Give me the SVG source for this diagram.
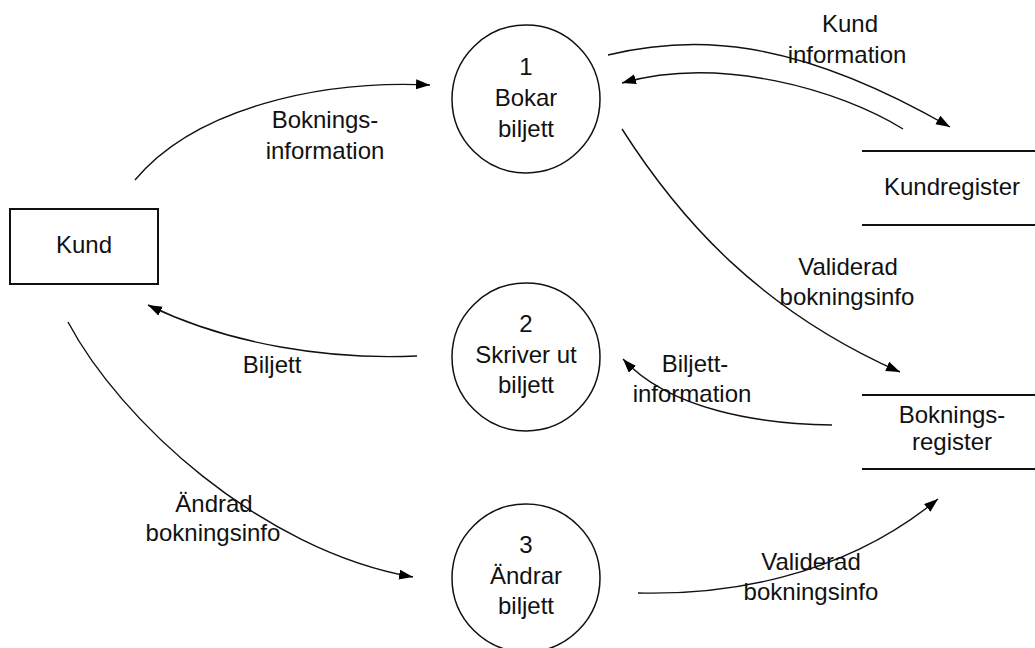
<svg xmlns="http://www.w3.org/2000/svg" width="1035" height="648" viewBox="0 0 1035 648">
  <style>
    text { font-family: "Liberation Sans", Arial, sans-serif; font-size: 24px; fill: #111; text-anchor: middle; }
    .proc { fill: none; stroke: #111; stroke-width: 1.5; }
    .ent { fill: none; stroke: #111; stroke-width: 2; }
    .store { stroke: #111; stroke-width: 2; }
    .flow { fill: none; stroke: #111; stroke-width: 1.4; marker-end: url(#arrow); }
  </style>
  <defs>
    <marker id="arrow" markerUnits="userSpaceOnUse" markerWidth="15" markerHeight="11" refX="14" refY="5" orient="auto">
      <path d="M0,0 L14,5 L0,10 z" fill="#000"/>
    </marker>
  </defs>
  <rect width="1035" height="648" fill="#fff"/>

  <!-- external entity -->
  <g id="kund">
    <rect class="ent" x="10" y="209" width="148" height="75"/>
    <text x="84" y="253">Kund</text>
  </g>

  <!-- processes -->
  <g id="p1">
    <circle class="proc" cx="526" cy="99" r="74"/>
    <text x="526" y="75">1</text>
    <text x="526" y="106">Bokar</text>
    <text x="526" y="137">biljett</text>
  </g>
  <g id="p2">
    <circle class="proc" cx="526" cy="357" r="74"/>
    <text x="526" y="332">2</text>
    <text x="526" y="363">Skriver ut</text>
    <text x="526" y="393">biljett</text>
  </g>
  <g id="p3">
    <circle class="proc" cx="526" cy="578" r="74"/>
    <text x="526" y="553">3</text>
    <text x="526" y="584">Ändrar</text>
    <text x="526" y="614">biljett</text>
  </g>

  <!-- data stores -->
  <g id="kundregister">
    <line class="store" x1="862" y1="151" x2="1035" y2="151"/>
    <line class="store" x1="862" y1="225" x2="1035" y2="225"/>
    <text x="952" y="195">Kundregister</text>
  </g>
  <g id="bokningsregister">
    <line class="store" x1="862" y1="395" x2="1035" y2="395"/>
    <line class="store" x1="862" y1="469" x2="1035" y2="469"/>
    <text x="952" y="423">Boknings-</text>
    <text x="952" y="450">register</text>
  </g>

  <!-- data flows -->
  <g id="connectors">
    <path class="flow" d="M135,180 C195,108 320,80 430,85"/>
    <path class="flow" d="M608,55 C690,35 790,35 950,127"/>
    <path class="flow" d="M903,129 C840,90 720,55 622,83"/>
    <path class="flow" d="M622,129 C680,220 760,310 900,372"/>
    <path class="flow" d="M832,425 C760,424 670,410 623,359"/>
    <path class="flow" d="M417,356 C330,360 230,345 148,305"/>
    <path class="flow" d="M68,322 C120,420 260,550 413,577"/>
    <path class="flow" d="M638,593 C720,595 840,580 938,499"/>

    <text x="325" y="128">Boknings-</text>
    <text x="325" y="159">information</text>
    <text x="850" y="32">Kund</text>
    <text x="847" y="63">information</text>
    <text x="848" y="275">Validerad</text>
    <text x="847" y="305">bokningsinfo</text>
    <text x="695" y="372">Biljett-</text>
    <text x="692" y="402">information</text>
    <text x="272" y="373">Biljett</text>
    <text x="214" y="512">Ändrad</text>
    <text x="213" y="541">bokningsinfo</text>
    <text x="811" y="570">Validerad</text>
    <text x="811" y="600">bokningsinfo</text>
  </g>
</svg>
